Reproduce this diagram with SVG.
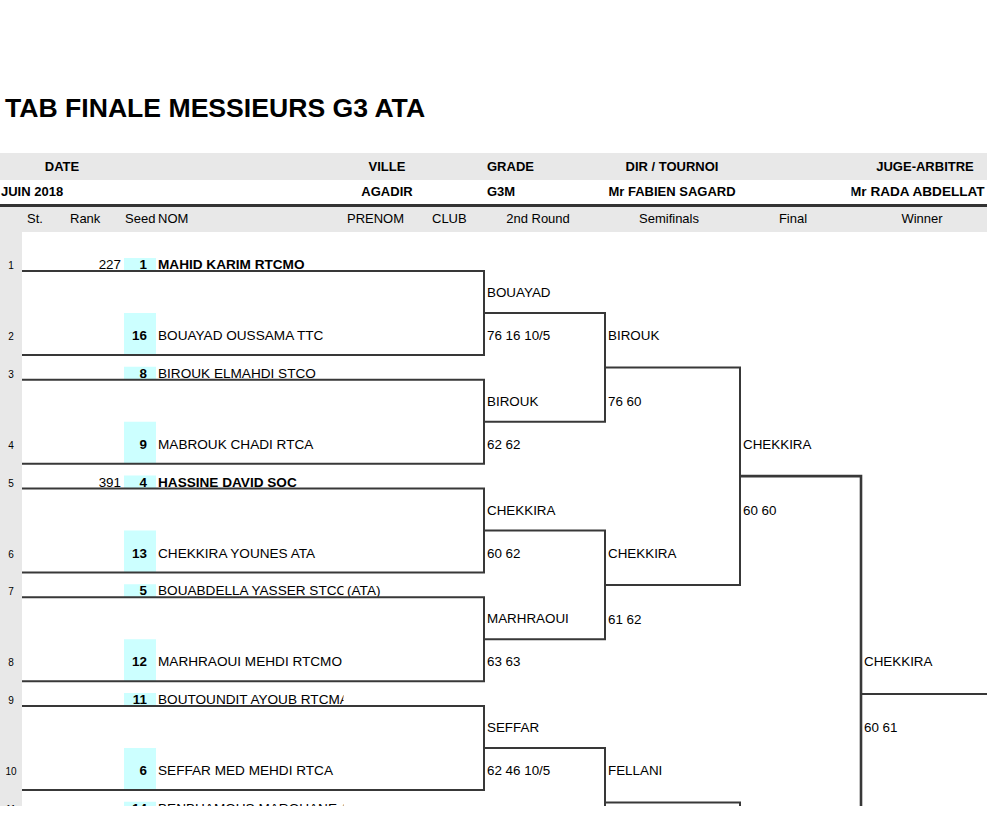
<svg xmlns="http://www.w3.org/2000/svg" width="987" height="835" viewBox="0 0 987 835">
<style>
text{font-family:"Liberation Sans",Arial,sans-serif;font-size:13.4px;fill:#000}
.h{font-size:13px}
.b{font-weight:bold}
.n{font-size:10px;text-anchor:middle}
.r{text-anchor:end}
.m{text-anchor:middle}
.nm{font-size:13.6px}
.title{font-size:26.6px;font-weight:bold}
.ln{stroke:#383838;stroke-width:2;fill:none}
.thick{stroke:#383838;stroke-width:2.6;fill:none}
.band{fill:#e8e8e8}
.cy{fill:#ccffff}
</style>
<defs>
<clipPath id="page"><rect x="0" y="0" width="987" height="806"/></clipPath>
<clipPath id="nameclip"><rect x="150" y="0" width="193.5" height="806"/></clipPath>
<clipPath id="judgeclip"><rect x="851.5" y="180" width="136" height="24"/></clipPath>
</defs>
<rect width="987" height="835" fill="#fff"/>

<g id="header">
<text class="title" x="5" y="117">TAB FINALE MESSIEURS G3 ATA</text>
<rect class="band" x="0" y="153" width="987" height="27"/>
<rect class="band" x="0" y="207" width="987" height="25"/>
<line x1="0" y1="205.5" x2="987" y2="205.5" stroke="#333" stroke-width="3"/>
<text class="h b m" x="62" y="171">DATE</text>
<text class="h b m" x="387" y="171">VILLE</text>
<text class="h b" x="487" y="171">GRADE</text>
<text class="h b m" x="672" y="171">DIR / TOURNOI</text>
<text class="h b m" x="925" y="171">JUGE-ARBITRE</text>
<text class="h b" x="1" y="196">JUIN 2018</text>
<text class="h b m" x="387" y="196">AGADIR</text>
<text class="h b" x="487" y="196">G3M</text>
<text class="h b m" x="672" y="196">Mr FABIEN SAGARD</text>
<g clip-path="url(#judgeclip)"><text class="b" x="850" y="196" style="font-size:13.6px">Mr RADA ABDELLAT</text></g>
<text class="h" x="27" y="223">St.</text>
<text class="h" x="70" y="223">Rank</text>
<text class="h" x="125" y="223">Seed</text>
<text class="h" x="158" y="223">NOM</text>
<text class="h" x="347" y="223">PRENOM</text>
<text class="h" x="432" y="223">CLUB</text>
<text class="h m" x="538" y="223">2nd Round</text>
<text class="h m" x="669" y="223">Semifinals</text>
<text class="h m" x="793" y="223">Final</text>
<text class="h m" x="922" y="223">Winner</text>
</g>

<g clip-path="url(#page)">
<rect class="band" x="0" y="232" width="22" height="574"/>

<g id="p1">
<rect class="cy" x="124" y="258" width="32" height="13"/>
<text class="n" x="11" y="269">1</text>
<text class="r" x="121" y="269">227</text>
<text class="b r" x="147" y="269">1</text>
<text class="b nm" x="158" y="269" clip-path="url(#nameclip)">MAHID KARIM RTCMO</text>
</g>
<g id="p2">
<rect class="cy" x="124" y="313" width="32" height="42"/>
<text class="n" x="11" y="340">2</text>
<text class="b r" x="147" y="340">16</text>
<text class="nm" x="158" y="340" clip-path="url(#nameclip)">BOUAYAD OUSSAMA TTC</text>
</g>
<g id="p3">
<rect class="cy" x="124" y="366.75" width="32" height="13"/>
<text class="n" x="11" y="377.75">3</text>
<text class="b r" x="147" y="377.75">8</text>
<text class="nm" x="158" y="377.75" clip-path="url(#nameclip)">BIROUK ELMAHDI STCO</text>
</g>
<g id="p4">
<rect class="cy" x="124" y="421.75" width="32" height="42"/>
<text class="n" x="11" y="448.75">4</text>
<text class="b r" x="147" y="448.75">9</text>
<text class="nm" x="158" y="448.75" clip-path="url(#nameclip)">MABROUK CHADI RTCA</text>
</g>
<g id="p5">
<rect class="cy" x="124" y="475.5" width="32" height="13"/>
<text class="n" x="11" y="486.5">5</text>
<text class="r" x="121" y="486.5">391</text>
<text class="b r" x="147" y="486.5">4</text>
<text class="b nm" x="158" y="486.5" clip-path="url(#nameclip)">HASSINE DAVID SOC</text>
</g>
<g id="p6">
<rect class="cy" x="124" y="530.5" width="32" height="42"/>
<text class="n" x="11" y="557.5">6</text>
<text class="b r" x="147" y="557.5">13</text>
<text class="nm" x="158" y="557.5" clip-path="url(#nameclip)">CHEKKIRA YOUNES ATA</text>
</g>
<g id="p7">
<rect class="cy" x="124" y="584.25" width="32" height="13"/>
<text class="n" x="11" y="595.25">7</text>
<text class="b r" x="147" y="595.25">5</text>
<text class="nm" x="158" y="595.25" clip-path="url(#nameclip)">BOUABDELLA YASSER STCO</text>
<text class="nm" x="347" y="595.25">(ATA)</text>
</g>
<g id="p8">
<rect class="cy" x="124" y="639.25" width="32" height="42"/>
<text class="n" x="11" y="666.25">8</text>
<text class="b r" x="147" y="666.25">12</text>
<text class="nm" x="158" y="666.25" clip-path="url(#nameclip)">MARHRAOUI MEHDI RTCMO</text>
</g>
<g id="p9">
<rect class="cy" x="124" y="693" width="32" height="13"/>
<text class="n" x="11" y="704">9</text>
<text class="b r" x="147" y="704">11</text>
<text class="nm" x="158" y="704" clip-path="url(#nameclip)">BOUTOUNDIT AYOUB RTCMA</text>
</g>
<g id="p10">
<rect class="cy" x="124" y="748" width="32" height="42"/>
<text class="n" x="11" y="775">10</text>
<text class="b r" x="147" y="775">6</text>
<text class="nm" x="158" y="775" clip-path="url(#nameclip)">SEFFAR MED MEHDI RTCA</text>
</g>
<g id="p11">
<rect class="cy" x="124" y="801.75" width="32" height="13"/>
<text class="n" x="11" y="812.75">11</text>
<text class="b r" x="147" y="812.75">14</text>
<text class="nm" x="158" y="812.75" clip-path="url(#nameclip)">BENBHAMOUS MAROUANE A</text>
</g>

<g id="connectors">
<path class="ln" d="M22,271 H484 V355 H22"/>
<path class="ln" d="M22,379.75 H484 V463.75 H22"/>
<path class="ln" d="M22,488.5 H484 V572.5 H22"/>
<path class="ln" d="M22,597.25 H484 V681.25 H22"/>
<path class="ln" d="M22,706 H484 V790 H22"/>
<path class="ln" d="M484,313 H605 V421.75 H484"/>
<path class="ln" d="M484,530.5 H605 V639.25 H484"/>
<path class="ln" d="M484,748 H605 V860"/>
<path class="ln" d="M605,367.375 H740 V584.875 H605"/>
<path class="ln" d="M605,802.375 H740 V860"/>
<path class="thick" d="M740,476.125 H861 V860"/>
<path class="ln" d="M861,694 H987"/>
</g>

<g id="r2">
<text x="487" y="297">BOUAYAD</text>
<text x="487" y="340">76 16 10/5</text>
<text x="487" y="405.75">BIROUK</text>
<text x="487" y="448.75">62 62</text>
<text x="487" y="514.5">CHEKKIRA</text>
<text x="487" y="557.5">60 62</text>
<text x="487" y="623.25">MARHRAOUI</text>
<text x="487" y="666.25">63 63</text>
<text x="487" y="732">SEFFAR</text>
<text x="487" y="775">62 46 10/5</text>
</g>
<g id="sf">
<text x="608" y="340.4">BIROUK</text>
<text x="608" y="406.4">76 60</text>
<text x="608" y="557.9">CHEKKIRA</text>
<text x="608" y="623.9">61 62</text>
<text x="608" y="775.4">FELLANI</text>
</g>
<g id="final">
<text x="743" y="449.1">CHEKKIRA</text>
<text x="743" y="515.1">60 60</text>
</g>
<g id="winner">
<text x="864" y="666">CHEKKIRA</text>
<text x="864" y="732">60 61</text>
</g>
</g>
</svg>
